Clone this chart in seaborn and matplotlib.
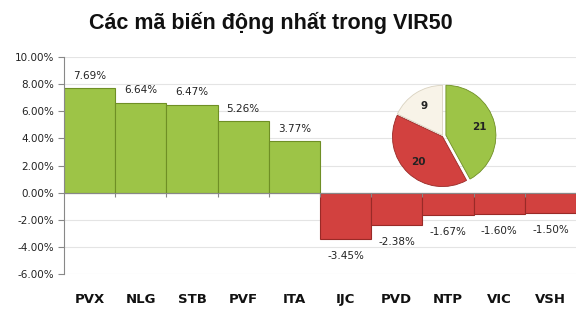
import numpy as np
import pandas as pd
import matplotlib
matplotlib.use("Agg")
import matplotlib.pyplot as plt
import seaborn as sns

# ---- data ----
tickers = ["PVX", "NLG", "STB", "PVF", "ITA", "IJC", "PVD", "NTP", "VIC", "VSH"]
changes = [7.69, 6.64, 6.47, 5.26, 3.77, -3.45, -2.38, -1.67, -1.60, -1.50]
pie_labels = ["21", "20", "9"]
pie_counts = [21, 20, 9]
title = "Các mã biến động nhất trong VIR50"

sns.set_theme(style="white")
plt.rcParams["font.family"] = ["DejaVu Sans"]
plt.rcParams["axes.unicode_minus"] = False

GREEN = "#9dc447"
RED = "#d2413f"
CREAM = "#f8f3e8"

df = pd.DataFrame({"ticker": tickers, "change": changes})
df["sign"] = np.where(df["change"] >= 0, "up", "down")

fig = plt.figure(figsize=(5.81, 3.09), dpi=100)
ax = fig.add_axes([64 / 581, (309 - 274) / 309, 512 / 581, (274 - 57) / 309])

sns.barplot(data=df, x="ticker", y="change", hue="sign",
            palette={"up": GREEN, "down": RED}, width=1.0, dodge=False,
            legend=False, ax=ax, saturation=1)
for p in ax.patches:
    h = p.get_height()
    p.set_edgecolor("#6f8f25" if h >= 0 else "#992a27")
    p.set_linewidth(0.8)

ax.set_ylim(-6, 10)
ax.set_xlim(-0.5, len(tickers) - 0.5)
yt = np.arange(-6, 10.01, 2)
ax.set_yticks(yt)
ax.set_yticklabels([f"{v:.2f}%" for v in yt], fontsize=7.5, color="#222222")
ax.yaxis.grid(True, color="#e4e4e4", linewidth=0.8)
ax.set_axisbelow(True)
ax.tick_params(axis="y", left=True, length=4, width=0.8, color="#888888", pad=3)
ax.tick_params(axis="x", bottom=False, length=0, pad=14)
for lbl in ax.get_xticklabels():
    lbl.set_fontweight("bold")
    lbl.set_fontsize(9.5)
    lbl.set_color("#111111")
ax.set_xlabel("")
ax.set_ylabel("")
for s in ["top", "right", "bottom"]:
    ax.spines[s].set_visible(False)
ax.spines["left"].set_color("#888888")
ax.spines["left"].set_linewidth(0.8)
ax.axhline(0, color="#888888", linewidth=0.8, zorder=1)
ax.vlines(np.arange(0.5, len(tickers) - 0.5), -0.3, 0, color="#888888", linewidth=0.8)

for i, v in enumerate(changes):
    off = 9 if v >= 0 else -12
    ax.annotate(f"{v:.2f}%", (i, v), xytext=(0, off), textcoords="offset points",
                ha="center", va="center", fontsize=7.5, color="#222222")

fig.text(271 / 581, 1 - 23 / 309, title, ha="center", va="center", fontsize=15.5,
         fontweight="bold", family=["Liberation Sans", "DejaVu Sans"], color="#111111")

# ---- pie ----
R = 55
pax = fig.add_axes([(443 - R) / 581, (309 - 136 - R) / 309, 2 * R / 581, 2 * R / 309])
wedges, texts = pax.pie(pie_counts, labels=pie_labels, colors=[GREEN, RED, CREAM],
                        startangle=90, counterclock=False, explode=[0.06, 0.015, 0.015],
                        labeldistance=0.7, radius=1.0)
for w, ec in zip(wedges, ["#6f8f25", "#992a27", "#d9d2c0"]):
    w.set_edgecolor(ec)
    w.set_linewidth(0.6)
for t in texts:
    t.set_fontsize(7.5)
    t.set_fontweight("bold")
    t.set_color("#222222")
    t.set_ha("center")
    t.set_va("center")
pax.set_xlim(-1.1, 1.1)
pax.set_ylim(-1.1, 1.1)
pax.set_aspect("equal")
pax.axis("off")

fig.savefig("out.png", dpi=100, facecolor="white")
